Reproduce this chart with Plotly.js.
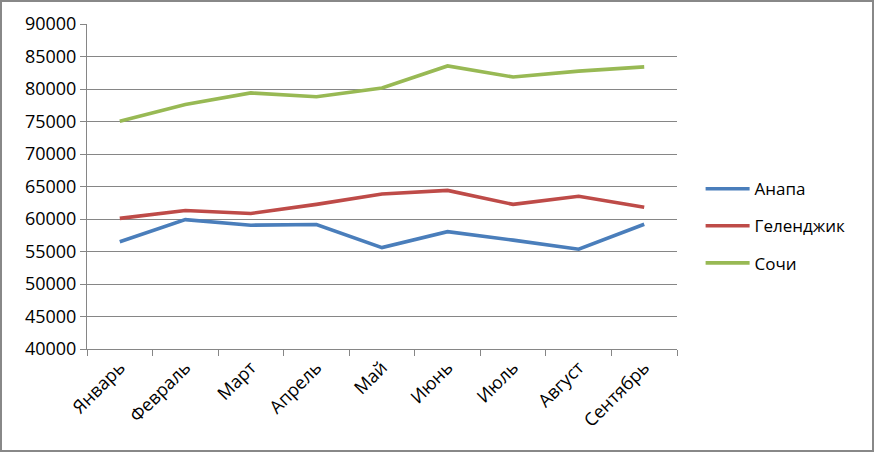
<!DOCTYPE html>
<html>
<head>
<meta charset="utf-8">
<script src="https://cdn.plot.ly/plotly-3.0.1.min.js"></script>
<style>
  html, body { margin: 0; padding: 0; background: #fff; }
  #wrap { position: relative; width: 878px; height: 460px; }
  #chart { position: absolute; left: 0; top: 0; width: 878px; height: 460px; }
  #frame { position: absolute; left: 0; top: 0; width: 870px; height: 448px;
           border: 2px solid #888888; pointer-events: none; }
</style>
</head>
<body>
<div id="wrap">
  <div id="chart"></div>
  <div id="frame"></div>
</div>
<script>
// Monthly figures by resort town
const months = ["Январь", "Февраль", "Март", "Апрель", "Май", "Июнь", "Июль", "Август", "Сентябрь"];
const anapa      = [56500, 59900, 59050, 59150, 55600, 58050, 56750, 55350, 59200];
const gelendzhik = [60100, 61300, 60850, 62250, 63850, 64400, 62250, 63500, 61800];
const sochi      = [75050, 77600, 79400, 78800, 80150, 83550, 81850, 82750, 83400];
const yTicks = [40000, 45000, 50000, 55000, 60000, 65000, 70000, 75000, 80000, 85000, 90000];

const seriesNames  = ["Анапа", "Геленджик", "Сочи"];
const seriesValues = [anapa, gelendzhik, sochi];
const seriesColors = ["#4A7EBB", "#BE4B48", "#98B954"];

const traces = seriesNames.map((name, i) => ({
  type: "scatter",
  mode: "lines",
  name: name,
  legendgroup: "g" + i,
  x: months,
  y: seriesValues[i],
  line: { color: seriesColors[i], width: 3.6 },
  hoverinfo: "x+y+name"
}));

const tickFont = { family: "Open Sans, sans-serif", size: 18, color: "#000" };

const layout = {
  width: 878,
  height: 460,
  margin: { l: 87, r: 201, t: 24, b: 111 },
  paper_bgcolor: "#fff",
  plot_bgcolor: "#fff",
  font: tickFont,
  showlegend: true,
  legend: {
    x: 1.04, xanchor: "left",
    y: 0.378, yanchor: "middle",
    font: { family: "Open Sans, sans-serif", size: 17, color: "#000" },
    itemwidth: 44,
    traceorder: "grouped",
    tracegroupgap: 12,
    bgcolor: "rgba(0,0,0,0)"
  },
  xaxis: {
    type: "category",
    tickangle: -45,
    tickson: "boundaries",
    ticks: "outside",
    ticklen: 6,
    tickcolor: "#868686",
    showline: true,
    linecolor: "#868686",
    linewidth: 1,
    showgrid: false,
    zeroline: false,
    tickfont: tickFont,
    range: [-0.5, 8.5]
  },
  yaxis: {
    range: [40000, 90000],
    tickvals: yTicks,
    ticktext: yTicks.map(String),
    ticks: "outside",
    ticklen: 6,
    tickcolor: "#868686",
    showline: true,
    linecolor: "#868686",
    linewidth: 1,
    showgrid: true,
    gridcolor: "#868686",
    gridwidth: 1,
    zeroline: false,
    tickfont: tickFont
  }
};

Plotly.newPlot("chart", traces, layout, { displayModeBar: false, staticPlot: true });
</script>
</body>
</html>
